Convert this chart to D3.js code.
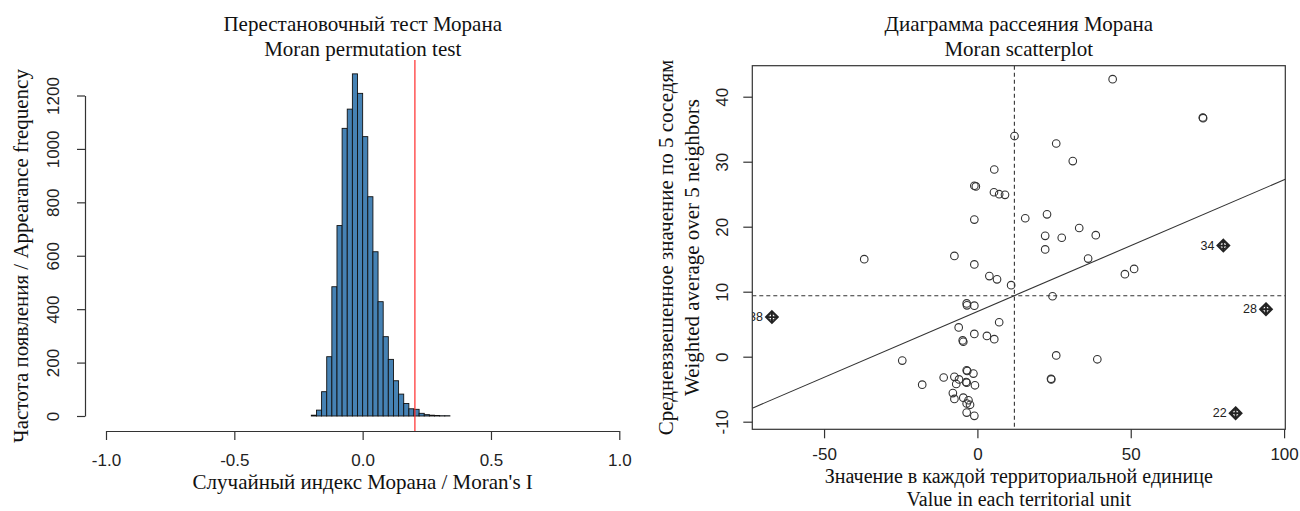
<!DOCTYPE html>
<html>
<head>
<meta charset="utf-8">
<script src="https://cdn.jsdelivr.net/npm/d3@7"></script>
<style>
	body { margin: 0; background: #fff; }
	svg { display: block; }
	.serif { font-family: "Liberation Serif", "Times New Roman", serif; fill: #111; }
	.sans { font-family: "Liberation Sans", Arial, sans-serif; fill: #222; }
</style>
</head>
<body>
<div id="vis"></div>
<script>

// histogram of permuted Moran's I (bin starts, width 0.02)
var binStarts = [-0.20, -0.18, -0.16, -0.14, -0.12, -0.10, -0.08, -0.06, -0.04, -0.02,
	0.00, 0.02, 0.04, 0.06, 0.08, 0.10, 0.12, 0.14, 0.16, 0.18,
	0.20, 0.22, 0.24, 0.26, 0.28, 0.30, 0.32];
var binCounts = [3, 22, 91, 222, 484, 713, 1077, 1149, 1281, 1208,
	1046, 821, 615, 428, 297, 212, 132, 82, 47, 27,
	25, 10, 5, 3, 2, 1, 1];
var binWidth = 0.02;
var observedI = 0.2036;
var histXTicks = [-1.0, -0.5, 0.0, 0.5, 1.0];
var histYTicks = [0, 200, 400, 600, 800, 1000, 1200];

// moran scatterplot
var unitValues = [12.1, 5.5, -1.0, -0.5, 5.4, 7.1, 9.0, -1.0, -36.9, -7.5,
	-1.0, 3.9, 6.4, 11.0, -3.5, -3.4, -1.0, 7.1, -6.1, -1.0,
	3.1, 5.5, -4.8, -4.6, -24.5, -18.0, -11.0, -7.5, -6.0, -6.9,
	-3.5, -3.3, -1.3, -3.7, -3.5, -0.8, -8.0, -7.5, -4.6, -2.9,
	-3.5, -2.4, -3.5, -1.0, 44.1, 73.5, 73.6, 25.7, 31.1, 15.6,
	22.7, 22.1, 27.5, 33.2, 38.6, 22.1, 36.1, 48.1, 51.1, 24.5,
	25.7, 39.1, 24.0, 24.1];
var neighbourAvg = [33.95, 28.8, 26.3, 26.2, 25.3, 25.0, 24.9, 21.1, 15.0, 15.5,
	14.2, 12.4, 11.9, 11.0, 8.2, 7.9, 7.85, 5.3, 4.5, 3.5,
	3.2, 2.7, 2.5, 2.3, -0.6, -4.3, -3.2, -3.1, -3.5, -4.2,
	-2.1, -2.2, -2.6, -3.9, -4.0, -4.4, -5.6, -6.5, -6.3, -6.7,
	-7.2, -7.4, -8.6, -9.1, 42.7, 36.8, 36.7, 32.8, 30.1, 21.3,
	21.9, 18.6, 18.3, 19.8, 18.7, 16.5, 15.1, 12.7, 13.5, 9.3,
	0.2, -0.4, -3.4, -3.5];
var inflLabels = ["38", "34", "28", "22"];
var inflValues = [-67.0, 80.2, 94.1, 84.2];
var inflAvg = [6.1, 17.1, 7.3, -8.7];
var meanValue = 12.06;
var meanAvg = 9.38;
var lineIntercept = 6.95;
var lineSlope = 0.2026;
var scatXTicks = [-50, 0, 50, 100];
var scatYTicks = [-10, 0, 10, 20, 30, 40];

function drawCharts() {

	var width = 1300, height = 511;

	var svg = d3.select("#vis").append("svg")
		.attr("width", width)
		.attr("height", height);

	var axisColor = "#333";
	var titleSize = "21px";
	var tickSize = "17px";

	///////// permutation histogram

	var hx = d3.scaleLinear().domain([-1, 1]).range([106, 619.3]);
	var hy = d3.scaleLinear().domain([0, 1200]).range([416, 95.5]);

	var left = svg.append("g");

	left.selectAll(".bar")
		.data(binCounts)
		.enter()
		.append("rect")
		.attr("class", "bar")
		.attr("x", function (d, i) { return hx(binStarts[i]); })
		.attr("width", function (d, i) { return hx(binStarts[i] + binWidth) - hx(binStarts[i]); })
		.attr("y", function (d) { return hy(d); })
		.attr("height", function (d) { return hy(0) - hy(d); })
		.style("fill", "#4682b4")
		.style("stroke", "#111")
		.style("stroke-width", 0.9);

	left.append("line")
		.attr("x1", hx(observedI)).attr("x2", hx(observedI))
		.attr("y1", 60).attr("y2", 431)
		.style("stroke", "#ff2a2a")
		.style("stroke-width", 1.2);

	var hxAxis = d3.axisBottom(hx)
		.tickValues(histXTicks)
		.tickSize(9)
		.tickSizeOuter(0);

	left.append("g")
		.attr("transform", "translate(0,431)")
		.call(hxAxis)
		.call(function (g) {
			g.select(".domain").style("stroke", axisColor).style("stroke-width", 1.2);
			g.selectAll(".tick line").style("stroke", axisColor).style("stroke-width", 1.2);
			g.selectAll(".tick text")
				.attr("class", "sans")
				.attr("y", 23)
				.style("font-size", tickSize)
				.text(function (d) { return d.toFixed(1); });
		});

	var hyAxis = d3.axisLeft(hy)
		.tickValues(histYTicks)
		.tickSize(8)
		.tickSizeOuter(0);

	left.append("g")
		.attr("transform", "translate(85,0)")
		.call(hyAxis)
		.call(function (g) {
			g.select(".domain").style("stroke", axisColor).style("stroke-width", 1.2);
			g.selectAll(".tick line").style("stroke", axisColor).style("stroke-width", 1.2);
			g.selectAll(".tick text")
				.attr("class", "sans")
				.attr("x", null).attr("dy", null)
				.attr("transform", "translate(-32,0) rotate(-90)")
				.attr("text-anchor", "middle")
				.attr("dominant-baseline", "central")
				.style("font-size", tickSize)
				.text(function (d) { return String(d); });
		});

	left.append("text").attr("class", "serif")
		.attr("x", 362.7).attr("y", 24)
		.attr("text-anchor", "middle").attr("dominant-baseline", "central")
		.style("font-size", titleSize)
		.text("Перестановочный тест Морана");

	left.append("text").attr("class", "serif")
		.attr("x", 362.7).attr("y", 49)
		.attr("text-anchor", "middle").attr("dominant-baseline", "central")
		.style("font-size", titleSize)
		.text("Moran permutation test");

	left.append("text").attr("class", "serif")
		.attr("x", 362.7).attr("y", 482)
		.attr("text-anchor", "middle").attr("dominant-baseline", "central")
		.style("font-size", titleSize)
		.text("Случайный индекс Морана / Moran's I");

	left.append("text").attr("class", "serif")
		.attr("transform", "translate(21,256) rotate(-90)")
		.attr("text-anchor", "middle").attr("dominant-baseline", "central")
		.style("font-size", titleSize)
		.text("Частота появления / Appearance frequency");

	///////// moran scatterplot

	var sx = d3.scaleLinear().domain([-73.4, 100.4]).range([752.3, 1285.3]);
	var sy = d3.scaleLinear().domain([-11.17, 44.77]).range([429.3, 65.7]);

	var right = svg.append("g");

	right.append("clipPath")
		.attr("id", "plotClip")
		.append("rect")
		.attr("x", sx.range()[0]).attr("y", sy.range()[1])
		.attr("width", sx.range()[1] - sx.range()[0])
		.attr("height", sy.range()[0] - sy.range()[1]);

	var plot = right.append("g").attr("clip-path", "url(#plotClip)");

	plot.append("line")
		.attr("x1", sx(meanValue)).attr("x2", sx(meanValue))
		.attr("y1", sy.range()[1]).attr("y2", sy.range()[0])
		.style("stroke", "#333").style("stroke-dasharray", "4,3").style("stroke-width", 1.1);

	plot.append("line")
		.attr("x1", sx.range()[0]).attr("x2", sx.range()[1])
		.attr("y1", sy(meanAvg)).attr("y2", sy(meanAvg))
		.style("stroke", "#333").style("stroke-dasharray", "4,3").style("stroke-width", 1.1);

	var xd = sx.domain();
	plot.append("line")
		.attr("x1", sx(xd[0])).attr("y1", sy(lineIntercept + lineSlope * xd[0]))
		.attr("x2", sx(xd[1])).attr("y2", sy(lineIntercept + lineSlope * xd[1]))
		.style("stroke", "#333").style("stroke-width", 1.1);

	plot.selectAll(".unit")
		.data(unitValues)
		.enter()
		.append("circle")
		.attr("class", "unit")
		.attr("cx", function (d) { return sx(d); })
		.attr("cy", function (d, i) { return sy(neighbourAvg[i]); })
		.attr("r", 3.8)
		.style("fill", "none")
		.style("stroke", "#333")
		.style("stroke-width", 1.1);

	// influential points: diamond with cross + label
	var infl = plot.selectAll(".infl")
		.data(inflValues)
		.enter()
		.append("g")
		.attr("class", "infl")
		.attr("transform", function (d, i) { return "translate(" + sx(d) + "," + sy(inflAvg[i]) + ")"; });

	infl.append("path")
		.attr("d", "M0,-6L6,0L0,6L-6,0Z M0,-6V6 M-6,0H6")
		.style("fill", "none")
		.style("stroke", "#222")
		.style("stroke-width", 1.8);

	infl.append("circle")
		.attr("r", 3.3)
		.style("fill", "none")
		.style("stroke", "#222")
		.style("stroke-width", 1.1);

	infl.append("text")
		.attr("class", "sans")
		.attr("x", -9)
		.attr("text-anchor", "end")
		.attr("dominant-baseline", "central")
		.style("font-size", "12.5px")
		.text(function (d, i) { return inflLabels[i]; });

	right.append("rect")
		.attr("x", sx.range()[0]).attr("y", sy.range()[1])
		.attr("width", sx.range()[1] - sx.range()[0])
		.attr("height", sy.range()[0] - sy.range()[1])
		.style("fill", "none")
		.style("stroke", axisColor)
		.style("stroke-width", 1.2);

	var sxAxis = d3.axisBottom(sx)
		.tickValues(scatXTicks)
		.tickSize(9)
		.tickSizeOuter(0);

	right.append("g")
		.attr("transform", "translate(0," + sy.range()[0] + ")")
		.call(sxAxis)
		.call(function (g) {
			g.select(".domain").remove();
			g.selectAll(".tick line").style("stroke", axisColor).style("stroke-width", 1.2);
			g.selectAll(".tick text")
				.attr("class", "sans")
				.attr("y", 19)
				.style("font-size", tickSize)
				.text(function (d) { return String(d); });
		});

	var syAxis = d3.axisLeft(sy)
		.tickValues(scatYTicks)
		.tickSize(9)
		.tickSizeOuter(0);

	right.append("g")
		.attr("transform", "translate(" + sx.range()[0] + ",0)")
		.call(syAxis)
		.call(function (g) {
			g.select(".domain").remove();
			g.selectAll(".tick line").style("stroke", axisColor).style("stroke-width", 1.2);
			g.selectAll(".tick text")
				.attr("class", "sans")
				.attr("x", null).attr("dy", null)
				.attr("transform", "translate(-30,0) rotate(-90)")
				.attr("text-anchor", "middle")
				.attr("dominant-baseline", "central")
				.style("font-size", tickSize)
				.text(function (d) { return String(d); });
		});

	var cx = (sx.range()[0] + sx.range()[1]) / 2;
	var cy = (sy.range()[0] + sy.range()[1]) / 2;

	right.append("text").attr("class", "serif")
		.attr("x", cx).attr("y", 24)
		.attr("text-anchor", "middle").attr("dominant-baseline", "central")
		.style("font-size", titleSize)
		.text("Диаграмма рассеяния Морана");

	right.append("text").attr("class", "serif")
		.attr("x", cx).attr("y", 49)
		.attr("text-anchor", "middle").attr("dominant-baseline", "central")
		.style("font-size", titleSize)
		.text("Moran scatterplot");

	right.append("text").attr("class", "serif")
		.attr("x", cx).attr("y", 476)
		.attr("text-anchor", "middle").attr("dominant-baseline", "central")
		.style("font-size", "20px")
		.text("Значение в каждой территориальной единице");

	right.append("text").attr("class", "serif")
		.attr("x", cx).attr("y", 499)
		.attr("text-anchor", "middle").attr("dominant-baseline", "central")
		.style("font-size", "20px")
		.text("Value in each territorial unit");

	right.append("text").attr("class", "serif")
		.attr("transform", "translate(666," + cy + ") rotate(-90)")
		.attr("text-anchor", "middle").attr("dominant-baseline", "central")
		.style("font-size", titleSize)
		.text("Средневзвешенное значение по 5 соседям");

	right.append("text").attr("class", "serif")
		.attr("transform", "translate(692," + cy + ") rotate(-90)")
		.attr("text-anchor", "middle").attr("dominant-baseline", "central")
		.style("font-size", titleSize)
		.text("Weighted average over 5 neighbors");
}

drawCharts();

</script>
</body>
</html>
